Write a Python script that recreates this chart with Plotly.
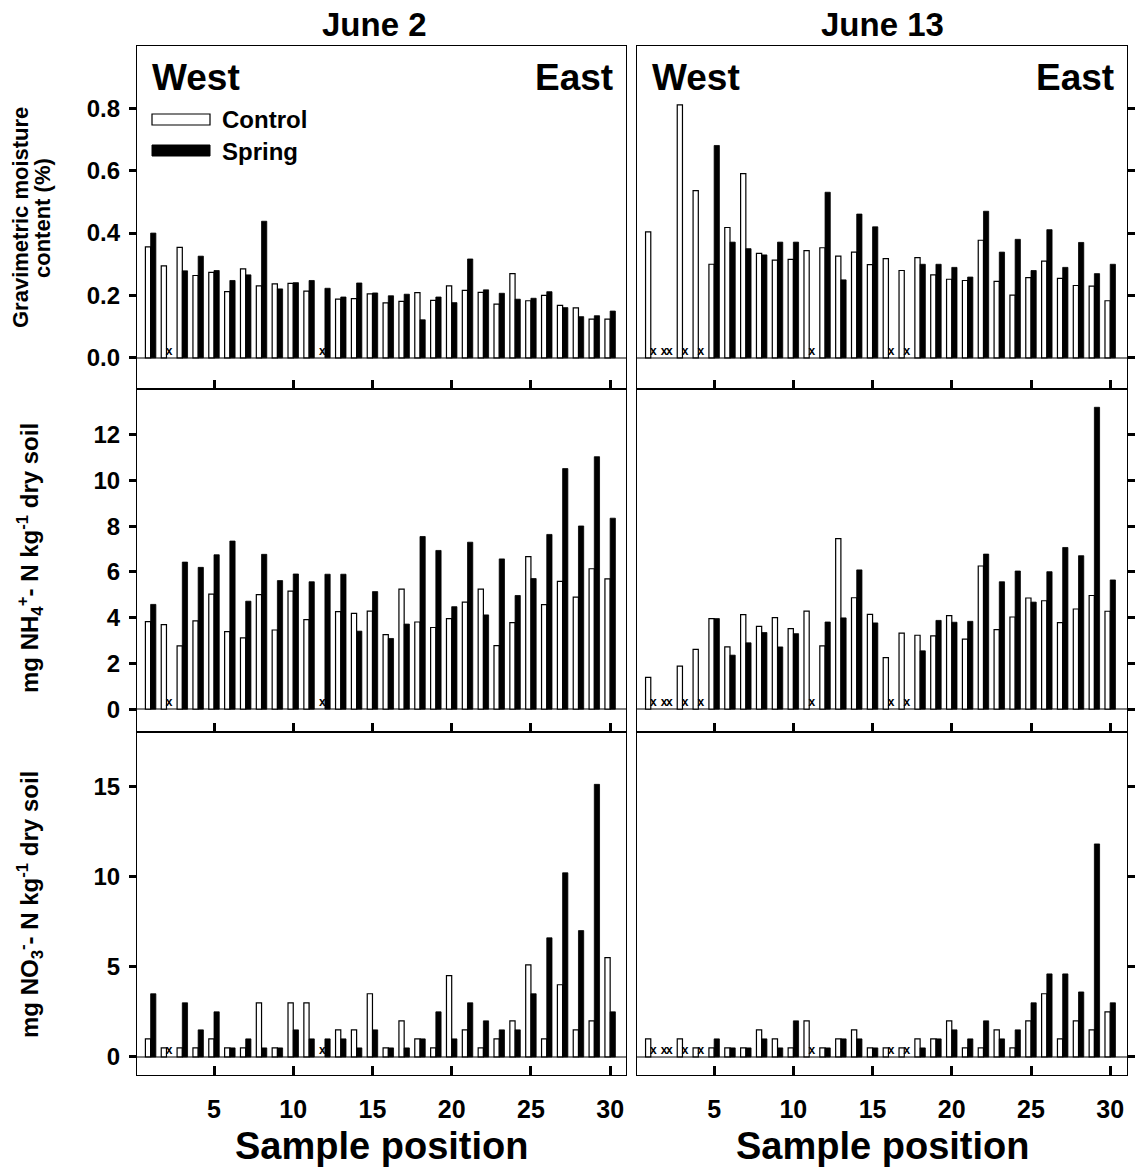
import plotly.graph_objects as go

# Sample positions along the transect
positions = list(range(1, 31))

# Gravimetric moisture content (%)
moist_jun2_control = [0.356, 0.295, 0.354, 0.264, 0.274, 0.212, 0.285, 0.231, 0.237, 0.239,
                      0.214, None, 0.188, 0.190, 0.205, 0.176, 0.181, 0.209, 0.184, 0.231,
                      0.216, 0.210, 0.172, 0.270, 0.183, 0.200, 0.168, 0.160, 0.124, 0.124]
moist_jun2_spring = [0.400, None, 0.279, 0.326, 0.280, 0.248, 0.266, 0.438, 0.221, 0.241,
                     0.248, 0.223, 0.195, 0.240, 0.208, 0.199, 0.204, 0.122, 0.195, 0.177,
                     0.317, 0.218, 0.207, 0.188, 0.191, 0.212, 0.161, 0.132, 0.135, 0.150]
moist_jun13_control = [0.404, None, 0.811, 0.536, 0.300, 0.418, 0.591, 0.335, 0.313, 0.316,
                       0.344, 0.353, 0.326, 0.339, 0.299, 0.318, 0.280, 0.321, 0.266, 0.252,
                       0.248, 0.377, 0.245, 0.201, 0.257, 0.310, 0.255, 0.232, 0.230, 0.183]
moist_jun13_spring = [None, None, None, None, 0.681, 0.371, 0.350, 0.330, 0.371, 0.371,
                      None, 0.531, 0.250, 0.461, 0.420, None, None, 0.300, 0.300, 0.290,
                      0.259, 0.470, 0.339, 0.380, 0.280, 0.411, 0.290, 0.370, 0.270, 0.300]

# mg NH4+-N per kg dry soil
nh4_jun2_control = [3.83, 3.70, 2.77, 3.86, 5.03, 3.39, 3.12, 5.01, 3.46, 5.16,
                    3.91, None, 4.26, 4.19, 4.29, 3.26, 5.25, 3.81, 3.57, 3.96,
                    4.68, 5.25, 2.78, 3.78, 6.67, 4.57, 5.59, 4.90, 6.14, 5.70]
nh4_jun2_spring = [4.58, None, 6.43, 6.20, 6.75, 7.35, 4.72, 6.77, 5.62, 5.91,
                   5.57, 5.90, 5.90, 3.41, 5.14, 3.09, 3.72, 7.55, 6.94, 4.48,
                   7.30, 4.12, 6.57, 4.97, 5.71, 7.64, 10.52, 8.01, 11.04, 8.35]
nh4_jun13_control = [1.39, None, 1.88, 2.61, 3.96, 2.72, 4.13, 3.62, 4.00, 3.52,
                     4.29, 2.77, 7.46, 4.87, 4.14, 2.25, 3.32, 3.23, 3.20, 4.09,
                     3.06, 6.26, 3.48, 4.03, 4.86, 4.74, 3.78, 4.38, 4.97, 4.28]
nh4_jun13_spring = [None, None, None, None, 3.96, 2.36, 2.90, 3.35, 2.72, 3.30,
                    None, 3.81, 3.99, 6.09, 3.77, None, None, 2.55, 3.88, 3.80,
                    3.84, 6.78, 5.57, 6.04, 4.68, 6.01, 7.07, 6.71, 13.2, 5.65]

# mg NO3--N per kg dry soil
no3_jun2_control = [1.0, 0.5, 0.5, 0.5, 1.0, 0.5, 0.5, 3.0, 0.5, 3.0,
                    3.0, None, 1.5, 1.5, 3.5, 0.5, 2.0, 1.0, 0.5, 4.5,
                    1.5, 0.5, 1.0, 2.0, 5.1, 1.0, 4.0, 1.5, 2.0, 5.5]
no3_jun2_spring = [3.5, None, 3.0, 1.5, 2.5, 0.5, 1.0, 0.5, 0.5, 1.5,
                   1.0, 1.0, 1.0, 0.5, 1.5, 0.5, 0.5, 1.0, 2.5, 1.0,
                   3.0, 2.0, 1.5, 1.5, 3.5, 6.6, 10.2, 7.0, 15.1, 2.5]
no3_jun13_control = [1.0, None, 1.0, 0.5, 0.5, 0.5, 0.5, 1.5, 1.0, 0.5,
                     2.0, 0.5, 1.0, 1.5, 0.5, 0.5, 0.5, 1.0, 1.0, 2.0,
                     0.5, 0.5, 1.5, 0.5, 2.0, 3.5, 1.0, 2.0, 1.5, 2.5]
no3_jun13_spring = [None, None, None, None, 1.0, 0.5, 0.5, 1.0, 0.5, 2.0,
                    None, 0.5, 1.0, 1.0, 0.5, None, None, 0.5, 1.0, 1.5,
                    1.0, 2.0, 1.0, 1.5, 3.0, 4.6, 4.6, 3.6, 11.8, 3.0]

col_titles = ["June 2", "June 13"]
y_ticks = [[0.0, 0.2, 0.4, 0.6, 0.8], [0, 2, 4, 6, 8, 10, 12], [0, 5, 10, 15]]
y_ranges = [[-0.1, 1.0], [-1, 14], [-1, 18]]
y_formats = [".1f", "d", "d"]
x_ticks = [5, 10, 15, 20, 25, 30]

panels = [
    [(moist_jun2_control, moist_jun2_spring), (moist_jun13_control, moist_jun13_spring)],
    [(nh4_jun2_control, nh4_jun2_spring), (nh4_jun13_control, nh4_jun13_spring)],
    [(no3_jun2_control, no3_jun2_spring), (no3_jun13_control, no3_jun13_spring)],
]

W, H = 1144, 1168
FONT = "Arial, Liberation Sans, sans-serif"


def px(x):
    return x / W


def py(y):
    return 1 - y / H


col_domains = [[px(137), px(626)], [px(637), px(1127)]]
row_domains = [[py(389), py(46)], [py(732), py(389)], [py(1075), py(732)]]
x_ranges = [[0.14, 31.0], [0.13, 31.06]]
title_centres = [px(374), px(882)]

BAR_W = 0.33

fig = go.Figure()
layout = {}

for r in range(3):
    for c in range(2):
        idx = r * 2 + c + 1
        xa = "x" if idx == 1 else f"x{idx}"
        ya = "y" if idx == 1 else f"y{idx}"
        control, spring = panels[r][c]

        fig.add_trace(go.Bar(
            x=positions, y=control, offset=-BAR_W, width=BAR_W,
            marker=dict(color="white", line=dict(color="black", width=1.2)),
            xaxis=xa, yaxis=ya, showlegend=False, name="Control"))
        fig.add_trace(go.Bar(
            x=positions, y=spring, offset=0, width=BAR_W,
            marker=dict(color="black", line=dict(color="black", width=0.8)),
            xaxis=xa, yaxis=ya, showlegend=False, name="Spring"))

        # mark samples that could not be measured with a small "x"
        miss_x = [p - BAR_W / 2 for p, v in zip(positions, control) if v is None]
        miss_x += [p + BAR_W / 2 for p, v in zip(positions, spring) if v is None]
        if miss_x:
            fig.add_trace(go.Scatter(
                x=miss_x, y=[0] * len(miss_x), mode="text", text=["x"] * len(miss_x),
                textposition="top center",
                textfont=dict(family=FONT, size=12, color="black", weight="bold"),
                xaxis=xa, yaxis=ya, showlegend=False, hoverinfo="skip"))

        xkey = "xaxis" if idx == 1 else f"xaxis{idx}"
        ykey = "yaxis" if idx == 1 else f"yaxis{idx}"
        layout[xkey] = dict(
            domain=col_domains[c], range=x_ranges[c], anchor=ya,
            tickvals=x_ticks, ticks="inside", ticklen=9, tickwidth=2.5, tickcolor="black",
            showticklabels=(r == 2), ticklabelstandoff=12,
            tickfont=dict(family=FONT, size=25, color="black", weight="bold"),
            showline=True, linecolor="black", linewidth=1.2, mirror=True,
            showgrid=False, zeroline=False)
        layout[ykey] = dict(
            domain=row_domains[r], range=y_ranges[r], anchor=xa,
            tickvals=y_ticks[r], tickformat=y_formats[r],
            side="left" if c == 0 else "right",
            ticks="outside", ticklen=7, tickwidth=2.5, tickcolor="black",
            showticklabels=(c == 0), ticklabelstandoff=4,
            tickfont=dict(family=FONT, size=24, color="black", weight="bold"),
            showline=True, linecolor="black", linewidth=1.2, mirror=True,
            showgrid=False, zeroline=True, zerolinecolor="#808080", zerolinewidth=1.5)

annotations = []
bold = dict(family=FONT, color="black", weight="bold")

for c, title in enumerate(col_titles):
    centre = (col_domains[c][0] + col_domains[c][1]) / 2
    annotations.append(dict(x=title_centres[c], y=py(25), xref="paper", yref="paper",
                            text=title, showarrow=False, font=dict(size=33, **bold),
                            xanchor="center", yanchor="middle"))
    annotations.append(dict(x=centre, y=py(1146), xref="paper", yref="paper",
                            text="Sample position", showarrow=False,
                            font=dict(size=38, **bold), xanchor="center", yanchor="middle"))
    annotations.append(dict(x=col_domains[c][0] + px(13), y=py(78), xref="paper", yref="paper",
                            text="West", showarrow=False, font=dict(size=37, **bold),
                            xanchor="left", yanchor="middle"))
    annotations.append(dict(x=col_domains[c][1] - px(11), y=py(78), xref="paper", yref="paper",
                            text="East", showarrow=False, font=dict(size=37, **bold),
                            xanchor="right", yanchor="middle"))

# legend entries drawn as long swatches
annotations.append(dict(x=px(220), y=py(120), xref="paper", yref="paper", text="Control",
                        showarrow=False, font=dict(size=24, **bold),
                        xanchor="left", yanchor="middle"))
annotations.append(dict(x=px(220), y=py(151), xref="paper", yref="paper", text="Spring",
                        showarrow=False, font=dict(size=24, **bold),
                        xanchor="left", yanchor="middle"))
shapes = [
    dict(type="rect", xref="paper", yref="paper", x0=px(152), x1=px(210),
         y0=py(125), y1=py(114), fillcolor="white", line=dict(color="black", width=1.2)),
    dict(type="rect", xref="paper", yref="paper", x0=px(152), x1=px(210),
         y0=py(156), y1=py(145), fillcolor="black", line=dict(color="black", width=1)),
]

# y-axis titles (two lines for the moisture panel)
annotations.append(dict(x=px(20), y=py(218), xref="paper", yref="paper",
                        text="Gravimetric moisture", textangle=-90,
                        showarrow=False, font=dict(size=22, **bold),
                        xanchor="center", yanchor="middle"))
annotations.append(dict(x=px(42), y=py(218), xref="paper", yref="paper",
                        text="content (%)", textangle=-90,
                        showarrow=False, font=dict(size=22, **bold),
                        xanchor="center", yanchor="middle"))
annotations.append(dict(x=px(30), y=py(558), xref="paper", yref="paper",
                        text="mg NH<sub>4</sub><sup>+</sup>- N kg<sup>-1</sup> dry soil",
                        textangle=-90, showarrow=False, font=dict(size=24, **bold),
                        xanchor="center", yanchor="middle"))
annotations.append(dict(x=px(30), y=py(905), xref="paper", yref="paper",
                        text="mg NO<sub>3</sub><sup>-</sup>- N kg<sup>-1</sup> dry soil",
                        textangle=-90, showarrow=False, font=dict(size=24, **bold),
                        xanchor="center", yanchor="middle"))

fig.update_layout(
    width=W, height=H, margin=dict(l=0, r=0, t=0, b=0),
    paper_bgcolor="white", plot_bgcolor="white",
    barmode="overlay", showlegend=False,
    annotations=annotations, shapes=shapes,
    font=dict(family=FONT, color="black"),
    **layout)

fig.write_html("out.html")
